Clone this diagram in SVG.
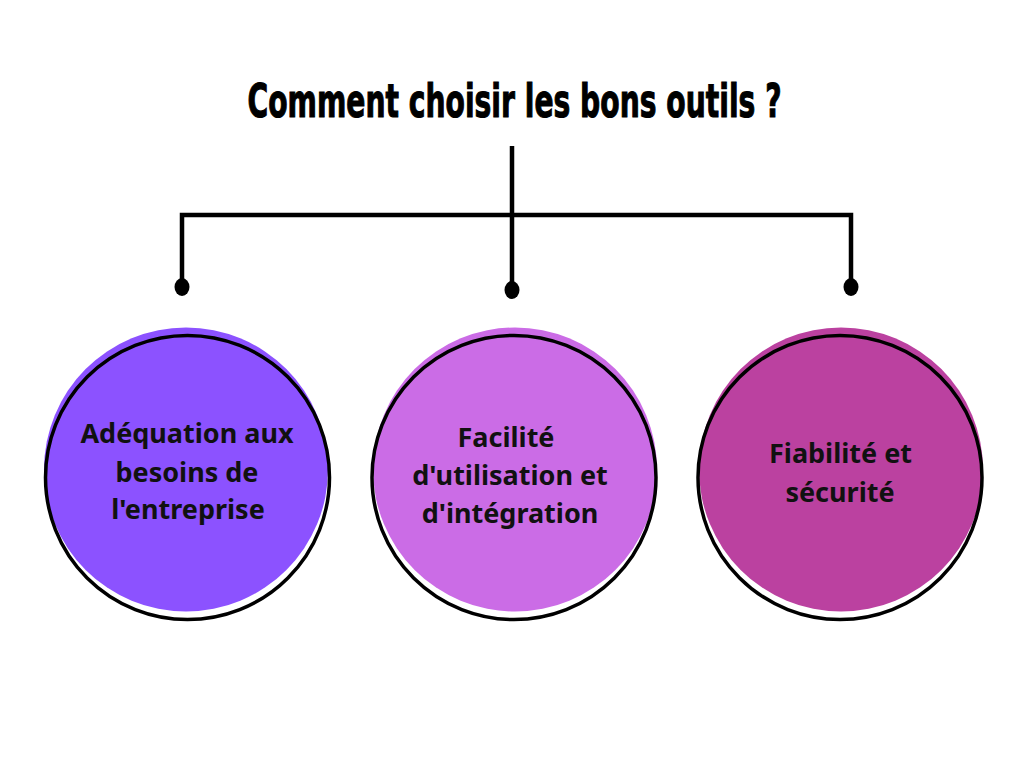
<svg xmlns="http://www.w3.org/2000/svg" width="1024" height="768" viewBox="0 0 1024 768">
<style>
.title{font-family:"DejaVu Sans","Liberation Sans",sans-serif;font-weight:bold;font-size:47px;fill:#000;stroke:#000;stroke-width:1.2}
.lbl{font-family:"Noto Sans","Open Sans",sans-serif;font-weight:bold;font-size:27px;fill:#111;text-anchor:middle}
.ring{fill:none;stroke:#000;stroke-width:3.5}
.wire{fill:none;stroke:#000;stroke-width:4.5}
</style>
<rect width="1024" height="768" fill="#fff"/>
<g id="title"><text class="title" transform="translate(514.5,117) scale(0.6,1)" x="0" y="0" text-anchor="middle">Comment choisir les bons outils ?</text></g>
<g id="connectors">
<path class="wire" d="M512 146V288M182 287V215H851V287"/>
<ellipse cx="182" cy="287" rx="7.5" ry="9"/>
<ellipse cx="512" cy="290" rx="7.5" ry="9"/>
<ellipse cx="851" cy="287" rx="7.5" ry="9"/>
</g>
<g id="node1">
<circle cx="186" cy="469.5" r="142" fill="#8c52ff"/>
<circle class="ring" cx="187.5" cy="477.5" r="142"/>
<text class="lbl" x="187" y="443">Adéquation aux</text>
<text class="lbl" x="187" y="482">besoins de</text>
<text class="lbl" x="188" y="519">l'entreprise</text>
</g>
<g id="node2">
<circle cx="515" cy="469.5" r="142" fill="#cb6ce6"/>
<circle class="ring" cx="514" cy="477.5" r="142"/>
<text class="lbl" x="506" y="447">Facilité</text>
<text class="lbl" x="510" y="485">d'utilisation et</text>
<text class="lbl" x="510" y="523">d'intégration</text>
</g>
<g id="node3">
<circle cx="841" cy="469.5" r="142" fill="#bb41a0"/>
<circle class="ring" cx="840" cy="477.5" r="142"/>
<text class="lbl" x="840.5" y="463">Fiabilité et</text>
<text class="lbl" x="840" y="502">sécurité</text>
</g>
</svg>
